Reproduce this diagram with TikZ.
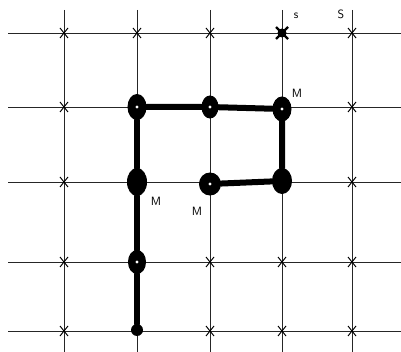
\documentclass[tikz,border=0pt]{standalone}
\usetikzlibrary{shapes.geometric}
\begin{document}
\begin{tikzpicture}[x=1pt,y=-1pt,
  gridline/.style={line width=0.7pt,black!85},
  xmark/.style={line width=1pt},
  blob/.style={ellipse,fill=black,draw=black,line width=1pt,inner sep=0pt,minimum width=18pt,minimum height=25pt},
  ring/.style={ellipse,fill=black,draw=black,line width=1pt,inner sep=0pt,minimum width=21pt,minimum height=22pt},
  dot/.style={circle,fill=black,inner sep=0pt,minimum size=12pt},
  thick line/.style={line width=6pt,line cap=round},
  lab/.style={font=\sffamily\large,inner sep=0pt}]
\useasboundingbox (0,0) rectangle (401,352);
% grid
\foreach \x in {64,137,210,282,352} \draw[gridline] (\x,10) -- (\x,352);
\foreach \y in {33,107,182,262,331} \draw[gridline] (8,\y) -- (401,\y);
% crosses
\foreach \p in {(64,33),(137,33),(210,33),(352,33),(64,107),(352,107),(64,182),(352,182),(64,262),(210,262),(282,262),(352,262),(64,331),(210,331),(282,331),(352,331)}
  \draw[xmark] \p ++(-4,-5) -- ++(8,10) \p ++(4,-5) -- ++(-8,10);
% bold cross
\draw[line width=2.4pt] (282,33) ++(-6,-6) -- ++(12,12) (282,33) ++(6,-6) -- ++(-12,12);
\node[circle,fill=black,inner sep=0pt,minimum size=9pt] (s1) at (282,33) {};
% nodes
\node[blob] (a) at (137,107) {};
\node[blob,minimum width=16pt,minimum height=22pt] (b) at (210,107) {};
\node[blob,minimum width=18pt,minimum height=24pt] (c) at (282,109) {};
\node[blob,minimum width=19pt,minimum height=27pt] (d) at (137,182) {};
\node[ring] (e) at (210,184) {};
\node[blob,minimum width=19pt,minimum height=25pt] (f) at (282,181) {};
\node[blob,minimum width=17pt,minimum height=23pt] (g) at (137,262) {};
\node[dot] (h) at (137,330) {};
% connectors
\draw[thick line] (a) -- (b) -- (c);
\draw[thick line] (c) -- (f) -- (e);
\draw[thick line] (a) -- (d) -- (g) -- (h);
% inner highlights
\foreach \n in {a,b,c,e,g} \fill[white] (\n.center) circle (1.6pt);
% labels
\node[lab] (m1) at (297,93) {M};
\node[lab] (m2) at (156,201) {M};
\node[lab] (m3) at (197,211) {M};
\node[lab] (s2) at (296,16) {s};
\node[lab] (s3) at (341,14) {S};
\end{tikzpicture}
\end{document}
